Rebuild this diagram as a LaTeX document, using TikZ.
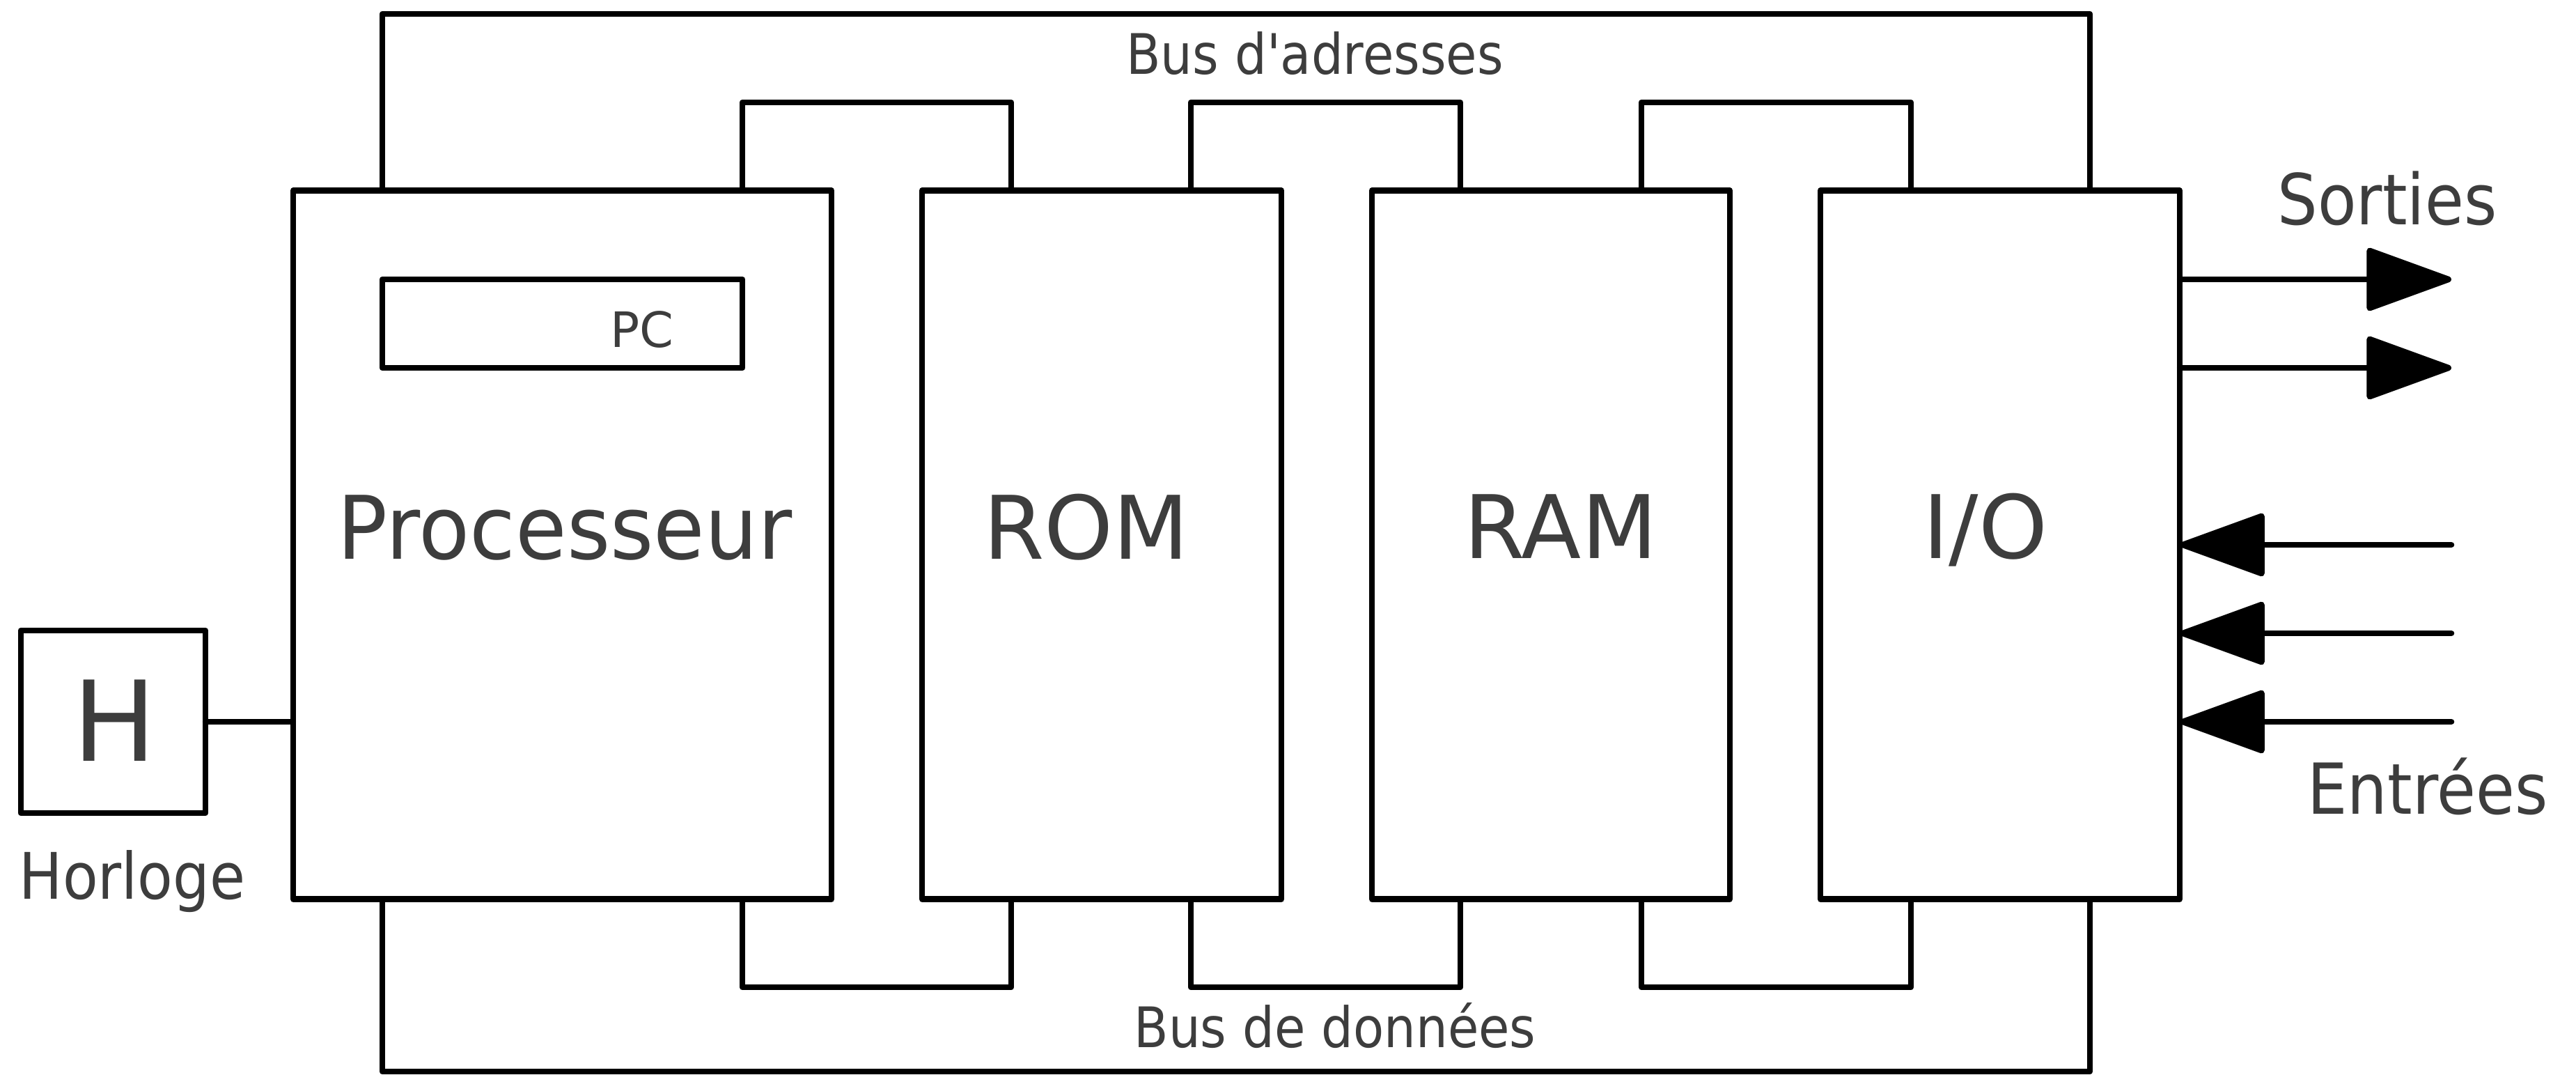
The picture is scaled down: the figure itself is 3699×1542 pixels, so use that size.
\documentclass[tikz,border=0pt]{standalone}
\usepackage{fontspec}
\setmainfont{DejaVu Sans}[FakeStretch=0.9]
\newfontfamily\fullfont{DejaVu Sans}
\newfontfamily\procfont{DejaVu Sans}[FakeStretch=0.95]
\newfontfamily\busfont{DejaVu Sans}[FakeStretch=0.9,Ligatures=TeXOff]
\usetikzlibrary{arrows.meta,calc}
\definecolor{txt}{HTML}{3D3D3D}
\newcommand{\fsz}[1]{\fontsize{#1}{#1}\selectfont}
\begin{document}
\begin{tikzpicture}[x=0.01cm,y=-0.01cm,
  wire/.style={line width=0.085cm,line join=round,line cap=round},
  blk/.style={draw,rectangle,line width=0.085cm,line join=round,inner sep=0pt,outer sep=0pt},
  lbl/.style={text=txt,inner sep=0pt,anchor=base},
  arr/.style={wire,-{Triangle[length=1.3cm,width=0.92cm,line join=round]}}]
\useasboundingbox (0,0) rectangle (3699,1542);
% blocks
\node[blk,minimum width=7.73cm,minimum height=10.16cm] (proc) at (807.5,782) {};
\node[blk,minimum width=5.16cm,minimum height=10.16cm] (rom) at (1582,782) {};
\node[blk,minimum width=5.14cm,minimum height=10.16cm] (ram) at (2227,782) {};
\node[blk,minimum width=5.16cm,minimum height=10.16cm] (io) at (2872,782) {};
\node[blk,minimum width=5.17cm,minimum height=1.27cm] (pc) at (807.5,464.5) {};
\node[blk,minimum width=2.65cm,minimum height=2.62cm] (clk) at (162.5,1036) {};
% labels
\node[lbl,font=\procfont\fsz{35.8pt}] (tproc) at (811,802) {Processeur};
\node[lbl,font=\fullfont\fsz{35.8pt}] (trom) at (1560,802) {ROM};
\node[lbl,font=\fullfont\fsz{35.8pt}] (tram) at (2241,801) {RAM};
\node[lbl,font=\fullfont\fsz{35.8pt}] (tio) at (2851,801) {I/O};
\node[lbl,font=\fullfont\fsz{19.9pt}] (tpc) at (922,498) {PC};
\node[lbl,font=\fullfont\fsz{45.5pt}] (th) at (165,1092) {H};
\node[lbl,font=\fsz{26.2pt}] (thorl) at (190,1290) {Horloge};
\node[lbl,font=\fsz{28.7pt}] (tsort) at (3428,322) {Sorties};
\node[lbl,font=\fsz{28.7pt}] (tentr) at (3486,1168) {Entrées};
\node[lbl,font=\busfont\fsz{22.8pt}] (tbusa) at (1888,106) {Bus d'adresses};
\node[lbl,font=\fsz{22.8pt}] (tbusd) at (1917,1503) {Bus de données};
% bus coordinates
\coordinate (atop) at (0,20);
\coordinate (abot) at (0,1538);
\coordinate (ltop) at (0,147);
\coordinate (lbot) at (0,1417);
\coordinate (pa) at (549,0);
\coordinate (ia) at (3001,0);
% address bus
\draw[wire] (proc.north -| pa) -- (pa |- atop) -- (ia |- atop) -- (io.north -| ia);
% data bus
\draw[wire] (proc.south -| pa) -- (pa |- abot) -- (ia |- abot) -- (io.south -| ia);
% local links
\coordinate (c1) at (1066,0); \coordinate (c2) at (1452,0);
\coordinate (c3) at (1710,0); \coordinate (c4) at (2097,0);
\coordinate (c5) at (2357,0); \coordinate (c6) at (2744,0);
\draw[wire] (proc.north -| c1) -- (c1 |- ltop) -- (c2 |- ltop) -- (rom.north -| c2);
\draw[wire] (rom.north -| c3) -- (c3 |- ltop) -- (c4 |- ltop) -- (ram.north -| c4);
\draw[wire] (ram.north -| c5) -- (c5 |- ltop) -- (c6 |- ltop) -- (io.north -| c6);
\draw[wire] (proc.south -| c1) -- (c1 |- lbot) -- (c2 |- lbot) -- (rom.south -| c2);
\draw[wire] (rom.south -| c3) -- (c3 |- lbot) -- (c4 |- lbot) -- (ram.south -| c4);
\draw[wire] (ram.south -| c5) -- (c5 |- lbot) -- (c6 |- lbot) -- (io.south -| c6);
% clock
\draw[wire] (clk.east) -- (proc.west |- clk.east);
% outputs / inputs
\coordinate (s1) at (3520,401);
\coordinate (s2) at (3520,528);
\coordinate (e1) at (3520,782);
\coordinate (e2) at (3520,909);
\coordinate (e3) at (3520,1036);
\draw[arr] (io.east |- s1) -- (s1);
\draw[arr] (io.east |- s2) -- (s2);
\draw[arr] (e1) -- (io.east |- e1);
\draw[arr] (e2) -- (io.east |- e2);
\draw[arr] (e3) -- (io.east |- e3);
\end{tikzpicture}
\end{document}
